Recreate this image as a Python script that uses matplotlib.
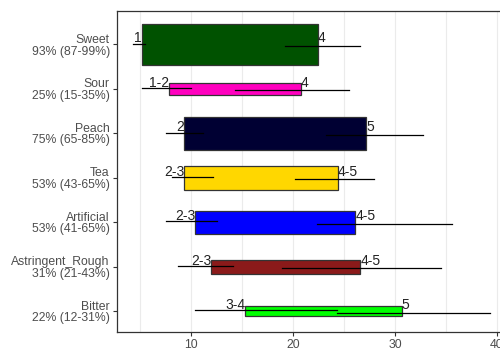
import matplotlib.pyplot as plt
from matplotlib.ticker import MultipleLocator

plt.rcParams['font.family'] = ['Liberation Sans', 'DejaVu Sans']

categories = ['Sweet', 'Sour', 'Peach', 'Tea', 'Artificial', 'Astringent_Rough', 'Bitter']
pct_labels = ['93% (87-99%)', '25% (15-35%)', '75% (65-85%)', '53% (43-65%)',
              '53% (41-65%)', '31% (21-43%)', '22% (12-31%)']
proportion = [0.93, 0.25, 0.75, 0.53, 0.53, 0.31, 0.22]
start = [5.16, 7.86, 9.32, 9.32, 10.4, 12.0, 15.33]
end = [22.44, 20.74, 27.2, 24.4, 26.1, 26.6, 30.65]
start_lo = [4.3, 5.2, 7.6, 8.1, 7.6, 8.75, 10.4]
start_hi = [5.5, 10.05, 11.2, 12.2, 12.55, 14.1, 24.3]
end_lo = [19.25, 14.3, 23.2, 20.15, 22.4, 18.9, 24.3]
end_hi = [26.6, 25.5, 32.75, 27.9, 35.6, 34.5, 39.3]
start_labels = ['1', '1-2', '2', '2-3', '2-3', '2-3', '3-4']
end_labels = ['4', '4', '5', '4-5', '4-5', '4-5', '5']
colors = ['#005200', '#FF00BF', '#000033', '#FFD700', '#0000FF', '#8B1A1A', '#00FF00']

fig = plt.figure(figsize=(5, 3.51), dpi=100)
ax = fig.add_axes([0.2334, 0.055, 0.772, 0.9145])

n = len(categories)
ypos = [n - i for i in range(n)]

ax.barh(ypos, [e - s for s, e in zip(start, end)], left=start, height=proportion,
        color=colors, edgecolor='#333333', linewidth=0.9, zorder=2)

for y, slo, shi, elo, ehi in zip(ypos, start_lo, start_hi, end_lo, end_hi):
    ax.plot([slo, shi], [y + 0.02, y + 0.02], color='black', lw=0.9, zorder=3)
    ax.plot([elo, ehi], [y - 0.03, y - 0.03], color='black', lw=0.9, zorder=3)

for y, s, e, sl, el in zip(ypos, start, end, start_labels, end_labels):
    ax.text(s, y + 0.045, sl, ha='right', va='baseline', fontsize=10, color='#222222', zorder=4)
    ax.text(e, y + 0.045, el, ha='left', va='baseline', fontsize=10, color='#222222', zorder=4)

ax.set_xlim(2.72, 40.56)
ax.set_ylim(0.54, 7.76)
ax.xaxis.set_major_locator(MultipleLocator(10))
ax.xaxis.set_minor_locator(MultipleLocator(5))
ax.grid(axis='x', which='both', color='#EBEBEB', lw=0.8, zorder=0)
ax.set_axisbelow(True)

ax.set_yticks(ypos)
ax.set_yticklabels([f'{c}\n{p}' for c, p in zip(categories, pct_labels)],
                   linespacing=0.95)
ax.tick_params(axis='both', which='major', length=3, width=0.8, color='#333333',
               labelsize=8.8, labelcolor='#4D4D4D', pad=2)
ax.tick_params(axis='x', which='minor', length=0)
for sp in ax.spines.values():
    sp.set_color('#333333')
    sp.set_linewidth(0.9)

fig.savefig('out.png', dpi=100)
